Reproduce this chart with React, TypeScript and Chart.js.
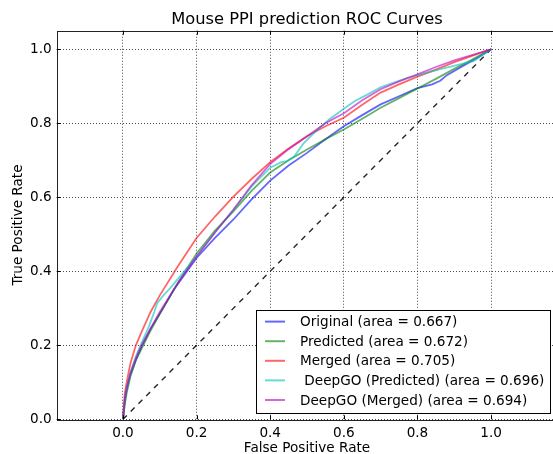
import React, { useEffect, useRef } from "react";
import { Chart, registerables } from "chart.js";

Chart.register(...registerables);

const TITLE = "Mouse PPI prediction ROC Curves";
const X_LABEL = "False Positive Rate";
const Y_LABEL = "True Positive Rate";
const X_TICKS = [0, 0.2, 0.4, 0.6, 0.8, 1.0];
const Y_TICKS = [0, 0.2, 0.4, 0.6, 0.8, 1.0];
const X_MIN = -0.18;
const X_MAX = 1.18;
const Y_MIN = 0;
const Y_MAX = 1.05;

const SERIES_LABELS = [
  "Original (area = 0.667)",
  "Predicted (area = 0.672)",
  "Merged (area = 0.705)",
  " DeepGO (Predicted) (area = 0.696)",
  "DeepGO (Merged) (area = 0.694)",
];
const SERIES_COLORS = [
  "rgba(0,0,255,0.6)",
  "rgba(0,128,0,0.6)",
  "rgba(255,0,0,0.6)",
  "rgba(0,191,191,0.6)",
  "rgba(191,0,191,0.6)",
];

const originalFpr = [0, 0.005, 0.01, 0.02, 0.035, 0.05, 0.075, 0.1, 0.138, 0.2, 0.25, 0.3, 0.35, 0.4, 0.45, 0.5, 0.55, 0.6, 0.65, 0.7, 0.75, 0.8, 0.84, 0.862, 0.88, 0.92, 0.96, 1.0];
const originalTpr = [0, 0.05, 0.08, 0.12, 0.16, 0.195, 0.245, 0.285, 0.35, 0.436, 0.49, 0.54, 0.595, 0.645, 0.686, 0.72, 0.757, 0.792, 0.822, 0.851, 0.873, 0.895, 0.905, 0.915, 0.93, 0.953, 0.975, 1.0];

const predictedFpr = [0, 0.005, 0.01, 0.02, 0.035, 0.05, 0.075, 0.1, 0.15, 0.2, 0.25, 0.3, 0.35, 0.4, 0.45, 0.5, 0.55, 0.6, 0.65, 0.7, 0.75, 0.8, 0.85, 0.9, 0.95, 1.0];
const predictedTpr = [0, 0.04, 0.07, 0.115, 0.16, 0.19, 0.24, 0.285, 0.37, 0.448, 0.51, 0.562, 0.618, 0.667, 0.7, 0.729, 0.757, 0.783, 0.812, 0.842, 0.868, 0.894, 0.92, 0.947, 0.973, 1.0];

const mergedFpr = [0, 0.005, 0.01, 0.02, 0.035, 0.05, 0.075, 0.1, 0.15, 0.2, 0.25, 0.3, 0.35, 0.4, 0.45, 0.5, 0.55, 0.6, 0.65, 0.7, 0.75, 0.8, 0.85, 0.9, 0.95, 1.0];
const mergedTpr = [0, 0.07, 0.1, 0.15, 0.2, 0.235, 0.29, 0.335, 0.415, 0.49, 0.548, 0.602, 0.65, 0.695, 0.732, 0.765, 0.792, 0.815, 0.85, 0.883, 0.905, 0.926, 0.945, 0.965, 0.983, 1.0];

const deepgoPredFpr = [0, 0.005, 0.01, 0.02, 0.035, 0.05, 0.07, 0.085, 0.093, 0.11, 0.129, 0.15, 0.2, 0.25, 0.3, 0.35, 0.4, 0.43, 0.446, 0.465, 0.49, 0.52, 0.56, 0.6, 0.63, 0.665, 0.7, 0.771, 0.8, 0.862, 0.952, 1.0];
const deepgoPredTpr = [0, 0.055, 0.085, 0.125, 0.17, 0.205, 0.25, 0.29, 0.314, 0.335, 0.355, 0.38, 0.44, 0.505, 0.565, 0.63, 0.68, 0.695, 0.698, 0.71, 0.745, 0.775, 0.81, 0.839, 0.86, 0.878, 0.897, 0.922, 0.93, 0.946, 0.968, 1.0];

const deepgoMergedFpr = [0, 0.005, 0.01, 0.02, 0.035, 0.05, 0.075, 0.1, 0.15, 0.2, 0.25, 0.3, 0.35, 0.4, 0.45, 0.5, 0.55, 0.6, 0.65, 0.7, 0.75, 0.8, 0.85, 0.9, 0.95, 1.0];
const deepgoMergedTpr = [0, 0.055, 0.085, 0.125, 0.165, 0.2, 0.245, 0.29, 0.37, 0.44, 0.505, 0.567, 0.633, 0.69, 0.73, 0.765, 0.8, 0.827, 0.862, 0.892, 0.913, 0.932, 0.952, 0.97, 0.985, 1.0];

const chanceFpr = [0, 1];
const chanceTpr = [0, 1];

const SERIES_FPR = [originalFpr, predictedFpr, mergedFpr, deepgoPredFpr, deepgoMergedFpr];
const SERIES_TPR = [originalTpr, predictedTpr, mergedTpr, deepgoPredTpr, deepgoMergedTpr];

const FONT = "DejaVu Sans";
const FS = 13.6;
const TITLE_FS = 16.3;
const CANVAS_W = 600;
const CANVAS_H = 460;

const toPoints = (xs: number[], ys: number[]) => xs.map((x, i) => ({ x, y: ys[i] }));

const framePlugin = {
  id: "mplFrame",
  afterDatasetsDraw(chart: any) {
    const { ctx, chartArea } = chart;
    ctx.save();
    ctx.font = `${FS}px "${FONT}"`;
    let maxW = 0;
    SERIES_LABELS.forEach((l) => {
      maxW = Math.max(maxW, ctx.measureText(l).width);
    });
    const rowH = 19.6;
    const boxW = 44 + maxW + 6;
    const boxH = 12 + rowH * (SERIES_LABELS.length - 1) + 13;
    const right = chartArea.right - 7;
    const bottom = chartArea.bottom - 6.3;
    const left = right - boxW;
    const top = bottom - boxH;
    ctx.fillStyle = "#ffffff";
    ctx.fillRect(left, top, boxW, boxH);
    ctx.strokeStyle = "#000000";
    ctx.lineWidth = 1;
    ctx.strokeRect(Math.round(left) + 0.5, Math.round(top) + 0.5, Math.round(boxW), Math.round(boxH));
    ctx.textBaseline = "middle";
    ctx.textAlign = "left";
    SERIES_LABELS.forEach((l, i) => {
      const y = top + 12 + i * rowH;
      ctx.strokeStyle = SERIES_COLORS[i];
      ctx.lineWidth = 2;
      ctx.beginPath();
      ctx.moveTo(left + 9, y);
      ctx.lineTo(left + 29, y);
      ctx.stroke();
      ctx.fillStyle = "#000000";
      ctx.fillText(l, left + 44, y + 1);
    });
    ctx.restore();
  },
  afterDraw(chart: any) {
    const { ctx, chartArea, scales } = chart;
    ctx.save();
    ctx.strokeStyle = "#222222";
    ctx.lineWidth = 1;
    ctx.strokeRect(
      Math.round(chartArea.left) + 0.5,
      Math.round(chartArea.top) + 0.5,
      Math.round(chartArea.right - chartArea.left),
      Math.round(chartArea.bottom - chartArea.top)
    );
    const tl = 4;
    ctx.strokeStyle = "#000000";
    ctx.beginPath();
    X_TICKS.forEach((v) => {
      const px = Math.round(scales.x.getPixelForValue(v)) + 0.5;
      ctx.moveTo(px, chartArea.bottom);
      ctx.lineTo(px, chartArea.bottom - tl);
      ctx.moveTo(px, chartArea.top);
      ctx.lineTo(px, chartArea.top + tl);
    });
    Y_TICKS.forEach((v) => {
      const py = Math.round(scales.y.getPixelForValue(v)) + 0.5;
      ctx.moveTo(chartArea.left, py);
      ctx.lineTo(chartArea.left + tl, py);
      ctx.moveTo(chartArea.right, py);
      ctx.lineTo(chartArea.right - tl, py);
    });
    ctx.stroke();
    ctx.restore();
  },
};

export default function App() {
  const canvasRef = useRef<HTMLCanvasElement | null>(null);

  useEffect(() => {
    if (!canvasRef.current) return;
    const datasets: any[] = SERIES_LABELS.map((label, i) => ({
      label,
      data: toPoints(SERIES_FPR[i], SERIES_TPR[i]),
      borderColor: SERIES_COLORS[i],
      backgroundColor: SERIES_COLORS[i],
      borderWidth: 1.8,
      showLine: true,
      pointRadius: 0,
      tension: 0,
      order: 10 - i,
    }));
    datasets.push({
      label: "chance",
      data: toPoints(chanceFpr, chanceTpr),
      borderColor: "rgba(0,0,0,0.85)",
      borderWidth: 1.4,
      borderDash: [5.5, 5.5],
      showLine: true,
      pointRadius: 0,
      order: 20,
    });

    const chart = new Chart(canvasRef.current, {
      type: "scatter",
      data: { datasets },
      plugins: [framePlugin],
      options: {
        responsive: false,
        animation: false,
        devicePixelRatio: 1,
        layout: { padding: { left: 0, top: 0, bottom: 0, right: CANVAS_W - (122.5 + X_MAX * 368.5) } },
        plugins: {
          legend: { display: false },
          tooltip: { enabled: false },
          title: {
            display: true,
            text: TITLE,
            fullSize: false,
            color: "#000000",
            font: { family: FONT, size: TITLE_FS, weight: "normal" },
            padding: { top: 10, bottom: 1.2 },
          },
        },
        scales: {
          x: {
            type: "linear",
            min: X_MIN,
            max: X_MAX,
            afterBuildTicks: (scale: any) => {
              scale.ticks = X_TICKS.map((value) => ({ value }));
            },
            afterFit: (scale: any) => {
              scale.height = CANVAS_H - 419.3;
            },
            ticks: {
              color: "#000000",
              font: { family: FONT, size: FS },
              padding: 6,
              maxRotation: 0,
              callback: (v: any) => Number(v).toFixed(1),
            },
            grid: {
              color: "rgba(0,0,0,0.7)",
              lineWidth: 1,
              drawTicks: false,
            },
            border: { display: false, dash: [1, 2] },
            title: {
              display: true,
              text: X_LABEL,
              color: "#000000",
              font: { family: FONT, size: FS },
              padding: { top: 0, bottom: 3 },
            },
          },
          y: {
            type: "linear",
            min: Y_MIN,
            max: Y_MAX,
            afterBuildTicks: (scale: any) => {
              scale.ticks = Y_TICKS.map((value) => ({ value }));
            },
            afterFit: (scale: any) => {
              scale.width = 56.7;
            },
            ticks: {
              color: "#000000",
              font: { family: FONT, size: FS },
              padding: 5,
              callback: (v: any) => Number(v).toFixed(1),
            },
            grid: {
              color: "rgba(0,0,0,0.7)",
              lineWidth: 1,
              drawTicks: false,
            },
            border: { display: false, dash: [1, 2] },
            title: {
              display: true,
              text: Y_LABEL,
              color: "#000000",
              font: { family: FONT, size: FS },
              padding: { top: 10.3, bottom: 0 },
            },
          },
        },
      },
    });
    return () => chart.destroy();
  }, []);

  return (
    <div style={{ position: "absolute", left: 0, top: 0, width: 553, height: 454, overflow: "hidden", background: "#ffffff" }}>
      <canvas ref={canvasRef} width={CANVAS_W} height={CANVAS_H} style={{ display: "block" }} />
    </div>
  );
}
